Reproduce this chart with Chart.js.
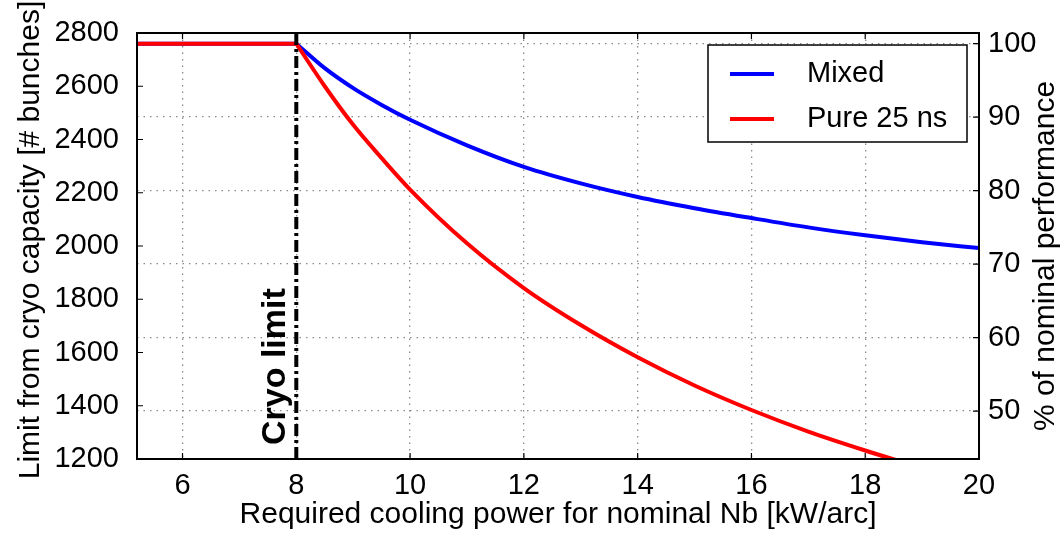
<!DOCTYPE html>
<html>
<head>
<meta charset="utf-8">
<script src="https://cdn.jsdelivr.net/npm/chart.js@4.4.0/dist/chart.umd.min.js"></script>
<style>
  html, body { margin: 0; padding: 0; background: #fff; }
</style>
</head>
<body>
<canvas id="chart" width="1062" height="535"></canvas>
<script>
// values (cooling power in kW/arc, bunches)
const power = [5.2, 8, 8.5, 9, 9.5, 10, 11, 12, 13, 14, 15, 16, 17, 18, 19, 20];
const mixed = [2760, 2760, 2668, 2593, 2530, 2474, 2378, 2297, 2235, 2184, 2142, 2105, 2070, 2040, 2014, 1992];
const pure25 = [2760, 2760, 2600, 2455, 2330, 2212, 2010, 1842, 1703, 1582, 1476, 1384, 1303, 1232, 1166, null];
const seriesLabels = ["Mixed", "Pure 25 ns"];
const seriesColors = ["#0000ff", "#ff0000"];

const cryoLimit = 8;
const nominalBunches = 2760; // = 100 %

const xTicks = [6, 8, 10, 12, 14, 16, 18, 20];
const leftTicks = [1200, 1400, 1600, 1800, 2000, 2200, 2400, 2600, 2800];
const rightTicks = [50, 60, 70, 80, 90, 100];

const xMin = 5.2, xMax = 20;
const yMin = 1200, yMax = 2800;

const FONT = "'Liberation Sans', Arial, sans-serif";
const FS = 29;

function pts(xs, ys) {
    return xs.map((x, i) => ({ x: x, y: ys[i] }));
}

// flat part (up to the cryo limit) and the falling part are separate
// so the curve keeps its sharp corner at 8 kW/arc
const mixedPts = pts(power, mixed);
const purePts = pts(power, pure25);

// lower "order" is drawn on top
const datasets = [
    { data: mixedPts.slice(0, 2), borderColor: seriesColors[0], tension: 0, order: 3 },
    { data: mixedPts.slice(1), borderColor: seriesColors[0], cubicInterpolationMode: "monotone", order: 3 },
    { data: purePts.slice(0, 2), borderColor: seriesColors[1], tension: 0, order: 2 },
    { data: purePts.slice(1), borderColor: seriesColors[1], cubicInterpolationMode: "monotone", order: 2 },
    {
        data: [{ x: cryoLimit, y: yMin }, { x: cryoLimit, y: yMax }],
        borderColor: "#000", borderWidth: 4, borderDash: [12, 4, 3, 4], order: 1
    }
].map(d => Object.assign({ borderWidth: 4, pointRadius: 0, fill: false, yAxisID: "y" }, d));

const figurePlugin = {
    id: "figure",
    afterDatasetsDraw(chart) {
        const { ctx, chartArea: a, scales } = chart;
        const sx = scales.x, sy = scales.y, sr = scales.y2;
        ctx.save();

        // inward tick marks
        ctx.strokeStyle = "#000";
        ctx.lineWidth = 1.2;
        ctx.beginPath();
        xTicks.forEach(v => {
            const px = sx.getPixelForValue(v);
            ctx.moveTo(px, a.bottom); ctx.lineTo(px, a.bottom - 6);
            ctx.moveTo(px, a.top); ctx.lineTo(px, a.top + 6);
        });
        leftTicks.forEach(v => {
            const py = sy.getPixelForValue(v);
            ctx.moveTo(a.left, py); ctx.lineTo(a.left + 6, py);
        });
        rightTicks.forEach(v => {
            const py = sr.getPixelForValue(v);
            ctx.moveTo(a.right, py); ctx.lineTo(a.right - 6, py);
        });
        ctx.stroke();

        // frame
        ctx.lineWidth = 2;
        ctx.strokeRect(a.left, a.top, a.right - a.left, a.bottom - a.top);

        // cryo limit label
        ctx.fillStyle = "#000";
        ctx.font = "bold 34px " + FONT;
        ctx.translate(sx.getPixelForValue(cryoLimit) - 21, a.bottom - 14);
        ctx.rotate(-Math.PI / 2);
        ctx.textAlign = "left";
        ctx.textBaseline = "middle";
        ctx.fillText("Cryo limit", 0, 0);
        ctx.setTransform(1, 0, 0, 1, 0, 0);

        // legend box
        const lw = 259, lh = 97;
        const lx = a.right - 12 - lw, ly = a.top + 12;
        ctx.fillStyle = "#fff";
        ctx.fillRect(lx, ly, lw, lh);
        ctx.lineWidth = 1.5;
        ctx.strokeStyle = "#000";
        ctx.strokeRect(lx, ly, lw, lh);
        ctx.font = FS + "px " + FONT;
        ctx.textAlign = "left";
        ctx.textBaseline = "middle";
        seriesLabels.forEach((lab, i) => {
            const yy = ly + 29 + i * 45;
            ctx.strokeStyle = seriesColors[i];
            ctx.lineWidth = 4;
            ctx.beginPath();
            ctx.moveTo(lx + 22, yy); ctx.lineTo(lx + 66, yy);
            ctx.stroke();
            ctx.fillStyle = "#000";
            ctx.fillText(lab, lx + 99, yy);
        });

        // axis titles
        ctx.fillStyle = "#000";
        ctx.font = "30px " + FONT;
        ctx.textAlign = "center";
        ctx.textBaseline = "middle";
        ctx.fillText("Required cooling power for nominal Nb [kW/arc]", (a.left + a.right) / 2, 515);

        ctx.save();
        ctx.translate(31, 240);
        ctx.rotate(-Math.PI / 2);
        ctx.fillText("Limit from cryo capacity [# bunches]", 0, 0);
        ctx.restore();

        ctx.save();
        ctx.translate(1046, 256);
        ctx.rotate(-Math.PI / 2);
        ctx.fillText("% of nominal performance", 0, 0);
        ctx.restore();

        ctx.restore();
    }
};

const tickFont = { family: FONT, size: FS };
const gridStyle = { color: "#8a8a8a", lineWidth: 1.3, drawTicks: false };
const plain = v => String(v);

new Chart(document.getElementById("chart"), {
    type: "line",
    data: { datasets: datasets },
    options: {
        responsive: false,
        animation: false,
        layout: { padding: { top: 33, left: 0, right: 0, bottom: 0 } },
        plugins: { legend: { display: false }, tooltip: { enabled: false } },
        scales: {
            x: {
                type: "linear",
                position: "bottom",
                min: xMin,
                max: xMax,
                afterBuildTicks: s => { s.ticks = xTicks.map(v => ({ value: v })); },
                afterFit: s => { s.height = 76; },
                ticks: { font: tickFont, color: "#000", padding: 10, maxRotation: 0, callback: plain },
                grid: gridStyle,
                border: { display: false, dash: [1.5, 5] }
            },
            y: {
                type: "linear",
                position: "left",
                min: yMin,
                max: yMax,
                afterBuildTicks: s => { s.ticks = leftTicks.map(v => ({ value: v })); },
                afterFit: s => { s.width = 137; },
                ticks: { font: tickFont, color: "#000", padding: 10, callback: plain },
                grid: { display: false },
                border: { display: false }
            },
            y2: {
                type: "linear",
                position: "right",
                min: yMin / nominalBunches * 100,
                max: yMax / nominalBunches * 100,
                afterBuildTicks: s => { s.ticks = rightTicks.map(v => ({ value: v })); },
                afterFit: s => { s.width = 83; },
                ticks: { font: tickFont, color: "#000", padding: 9, callback: plain },
                grid: gridStyle,
                border: { display: false, dash: [1.5, 5] }
            }
        }
    },
    plugins: [figurePlugin]
});
</script>
</body>
</html>
